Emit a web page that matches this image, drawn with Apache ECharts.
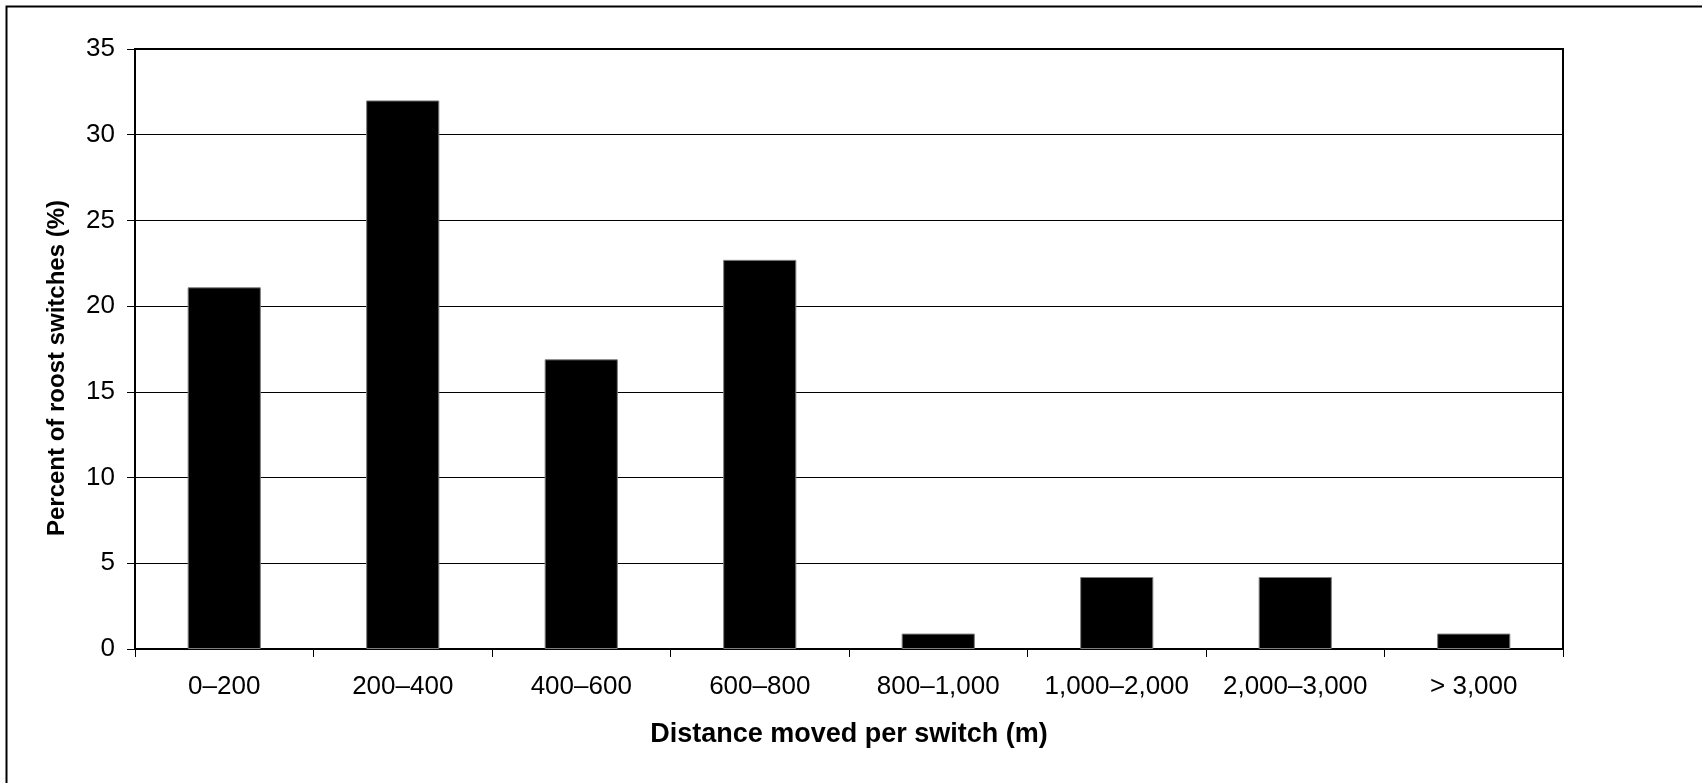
<!DOCTYPE html>
<html>
<head>
<meta charset="utf-8">
<script src="https://cdn.jsdelivr.net/npm/echarts@6/dist/echarts.min.js"></script>
<style>
html,body{margin:0;padding:0;background:#fff;}
#chart{width:1702px;height:783px;}
</style>
</head>
<body>
<div id="chart"></div>
<script>
const categories = ['0–200', '200–400', '400–600', '600–800', '800–1,000', '1,000–2,000', '2,000–3,000', '> 3,000'];
const percentValues = [21.1, 32.0, 16.9, 22.7, 0.9, 4.2, 4.2, 0.9];
const yTicks = [0, 5, 10, 15, 20, 25, 30, 35];
const xTitle = 'Distance moved per switch (m)';
const yTitle = 'Percent of roost switches (%)';

const FONT = 'Liberation Sans, Arial, Helvetica, sans-serif';
const chart = echarts.init(document.getElementById('chart'), null, {renderer: 'canvas'});
chart.setOption({
  backgroundColor: '#ffffff',
  animation: false,
  graphic: [{
    type: 'rect',
    shape: {x: 6.5, y: 6.5, width: 1800, height: 900},
    style: {fill: 'none', stroke: '#000', lineWidth: 2},
    silent: true,
    z: 0
  }],
  grid: {
    left: 135, right: 139, top: 49, bottom: 134,
    show: true, borderColor: '#000', borderWidth: 2,
    backgroundColor: 'transparent',
    containLabel: false
  },
  xAxis: {
    type: 'category',
    data: categories,
    name: xTitle,
    nameLocation: 'middle',
    nameGap: 72,
    nameTextStyle: {fontFamily: FONT, fontSize: 27, fontWeight: 'bold', color: '#000'},
    axisLine: {show: true, lineStyle: {color: '#000', width: 2}},
    axisTick: {show: true, alignWithLabel: false, length: 8, lineStyle: {color: '#000', width: 1}},
    axisLabel: {fontFamily: FONT, fontSize: 26, color: '#000', margin: 25, interval: 0},
    splitLine: {show: false}
  },
  yAxis: {
    type: 'value',
    min: yTicks[0],
    max: yTicks[yTicks.length - 1],
    interval: 5,
    name: yTitle,
    nameLocation: 'middle',
    nameGap: 66,
    nameRotate: 90,
    nameTextStyle: {fontFamily: FONT, fontSize: 24, fontWeight: 'bold', color: '#000', padding: [0, 38, 0, 0]},
    axisLine: {show: true, lineStyle: {color: '#000', width: 2}},
    axisTick: {show: true, length: 8, lineStyle: {color: '#000', width: 1}},
    axisLabel: {fontFamily: FONT, fontSize: 26, color: '#000', margin: 20},
    splitLine: {show: true, lineStyle: {color: '#000', width: 1}}
  },
  series: [{
    type: 'bar',
    data: percentValues,
    barWidth: '41%',
    itemStyle: {color: '#000', borderColor: '#7f7f7f', borderWidth: 1},
    z: 3
  }]
});
</script>
</body>
</html>
